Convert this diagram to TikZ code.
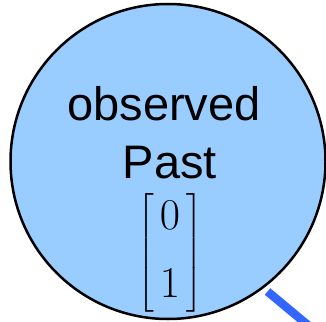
\RequirePackage{fix-cm}
\documentclass[tikz,border=0pt]{standalone}
\usepackage[no-math]{fontspec}
\setmainfont{Liberation Sans}
\usepackage{amsmath}
\usepackage{tikz}
\definecolor{pastfill}{HTML}{99CCFF}
\definecolor{linkblue}{HTML}{3366FF}
\newcommand{\pastvec}{\left[\begin{array}{c}0\\[15pt]1\end{array}\right]}

\begin{document}
\begin{tikzpicture}[x=1pt,y=-1pt]
    \useasboundingbox (0,0) rectangle (326,321);

    \node (past) [circle,draw=black,line width=2.5pt,fill=pastfill,minimum size=315pt,inner sep=0pt] at (168,161.5) {};

    \node (obs) [anchor=base,inner sep=0pt,font=\fontsize{47}{58}\selectfont] at (164,120) {observed};
    \node (pst) [anchor=base,inner sep=0pt,font=\fontsize{47}{58}\selectfont] at (170,178) {Past};
    \node (vec) [inner sep=0pt,font=\fontsize{44}{53}\selectfont] at (170,253) {\arraycolsep=6pt$\pastvec$};

    \coordinate (tail) at (267.5,291.5);
    \coordinate (off) at (330,343.5);

    \path (tail) [draw=linkblue,line width=8.5pt] edge (off);
\end{tikzpicture}
\end{document}
